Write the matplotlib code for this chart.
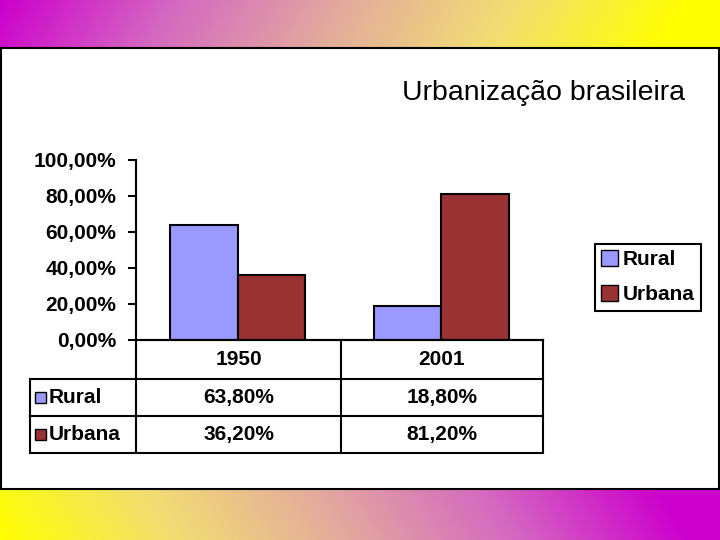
import numpy as np
import matplotlib.pyplot as plt
from matplotlib.colors import LinearSegmentedColormap
from matplotlib.patches import Rectangle, Patch

# data
years = ['1950', '2001']
series_names = ['Rural', 'Urbana']
rural = [63.8, 18.8]
urbana = [36.2, 81.2]
y_ticks = [0, 20, 40, 60, 80, 100]
title = 'Urbanização brasileira'

RURAL_COLOR = '#9999FF'
URBANA_COLOR = '#993333'
W, H = 720, 540


def pct(v):
    return f"{v:.2f}%".replace('.', ',')


def px_axes(fig, x0, y0, x1, y1):
    # pixel box (origin top-left) -> figure axes
    return fig.add_axes([x0 / W, 1 - y1 / H, (x1 - x0) / W, (y1 - y0) / H])


plt.rcParams['font.family'] = ['Liberation Sans', 'DejaVu Sans']

fig = plt.figure(figsize=(7.2, 5.4), dpi=100)

# slide background with gradient bands
bg = fig.add_axes([0, 0, 1, 1])
cmap = LinearSegmentedColormap.from_list(
    'slide', ['#CC00CC', '#D468C0', '#E3AA9E', '#F2DE72', '#FFFF00'])
xx, yy = np.meshgrid(np.arange(W), np.arange(H))
img = np.ones((H, W, 3))
t_top = np.clip((xx + 0.6 * yy) / (W - 30), 0, 1)
t_bot = np.clip((xx + 0.6 * (H - yy)) / (W - 30), 0, 1)
top_band = yy < 48
bot_band = yy >= 489
img[top_band] = cmap(t_top[top_band])[:, :3]
img[bot_band] = cmap(1 - t_bot[bot_band])[:, :3]
bg.imshow(img, extent=(0, W, H, 0), aspect='auto', interpolation='bilinear')
bg.set_xlim(0, W)
bg.set_ylim(H, 0)
bg.axis('off')
bg.add_patch(Rectangle((1, 48), W - 2, 441, fill=False, lw=1.5, ec='black'))

# bar chart
ax = px_axes(fig, 136, 160, 543, 340)
x = np.arange(len(years))
w = 0.332
ax.bar(x - w / 2, rural, w, color=RURAL_COLOR, edgecolor='black', lw=1.5,
       label=series_names[0])
ax.bar(x + w / 2, urbana, w, color=URBANA_COLOR, edgecolor='black', lw=1.5,
       label=series_names[1])
ax.set_xlim(-0.5, len(years) - 0.5)
ax.set_ylim(0, 100)
ax.set_xticks([])
ax.set_yticks(y_ticks)
ax.set_yticklabels([pct(t) for t in y_ticks], fontsize=15, fontweight='bold')
ax.tick_params(axis='y', direction='out', length=6, width=1.5, pad=8)
for s in ['top', 'right']:
    ax.spines[s].set_visible(False)
ax.spines['left'].set_linewidth(1.5)
ax.spines['bottom'].set_linewidth(1.5)
ax.patch.set_alpha(0)

# data table under the chart
tab = px_axes(fig, 30, 340, 543, 453)
tab.set_xlim(30, 543)
tab.set_ylim(453, 340)
tab.axis('off')
col_edges = [30, 136, 341, 543]
row_edges = [340, 379, 416, 453]
lk = dict(color='black', lw=1.5, clip_on=False, solid_capstyle='projecting')
tab.plot([col_edges[1], col_edges[-1]], [row_edges[0]] * 2, **lk)
for ry in row_edges[1:]:
    tab.plot([col_edges[0], col_edges[-1]], [ry, ry], **lk)
tab.plot([col_edges[0]] * 2, [row_edges[1], row_edges[-1]], **lk)
for cx in col_edges[1:]:
    tab.plot([cx, cx], [row_edges[0], row_edges[-1]], **lk)

txt = dict(fontsize=15, fontweight='bold', va='center')
hy = (row_edges[0] + row_edges[1]) / 2
for j, yr in enumerate(years):
    cx = (col_edges[j + 1] + col_edges[j + 2]) / 2
    tab.text(cx, hy, yr, ha='center', **txt)

rows = [(series_names[0], rural, RURAL_COLOR), (series_names[1], urbana, URBANA_COLOR)]
for i, (name, vals, c) in enumerate(rows):
    cy = (row_edges[i + 1] + row_edges[i + 2]) / 2
    tab.add_patch(Rectangle((35, cy - 5.5), 11, 11, fc=c, ec='black', lw=1,
                            clip_on=False))
    tab.text(49, cy, name, ha='left', **txt)
    for j, v in enumerate(vals):
        cx = (col_edges[j + 1] + col_edges[j + 2]) / 2
        tab.text(cx, cy, pct(v), ha='center', **txt)

# legend
handles = [Patch(fc=RURAL_COLOR, ec='black', lw=1, label=series_names[0]),
           Patch(fc=URBANA_COLOR, ec='black', lw=1, label=series_names[1])]
leg = fig.legend(handles=handles, loc='upper left',
                 bbox_to_anchor=(595 / W, 1 - 244 / H), borderaxespad=0,
                 fancybox=False, edgecolor='black', framealpha=1,
                 borderpad=0.3, handlelength=0.8, handleheight=0.8,
                 handletextpad=0.25, labelspacing=0.75,
                 prop={'size': 15, 'weight': 'bold'})
leg.get_frame().set_linewidth(1.5)

fig.text(543 / W, 1 - 93 / H, title, ha='center', va='center', fontsize=20.5)

fig.savefig('out.png', dpi=100)
